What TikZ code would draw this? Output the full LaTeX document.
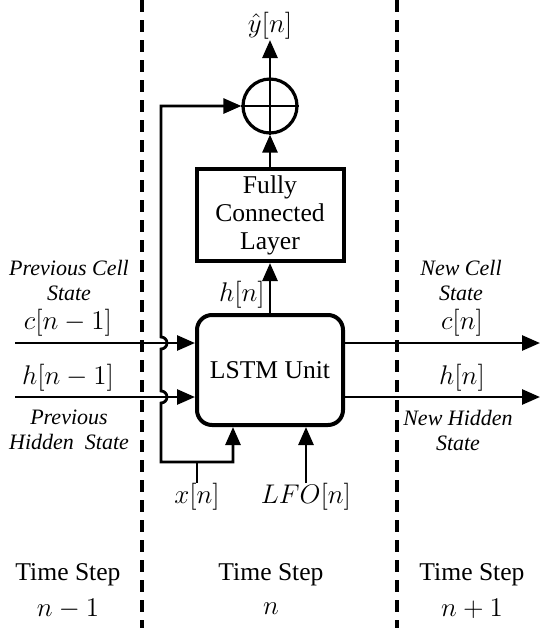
\RequirePackage{fix-cm}
\documentclass[tikz,border=0pt]{standalone}
\usepackage[no-math]{fontspec}
\setmainfont{Liberation Serif}
\usetikzlibrary{arrows.meta}
\begin{document}
\begin{tikzpicture}[x=0.5pt,y=-0.5pt,
  font=\fontsize{12.8}{14}\selectfont,
  conn/.style={line width=1.4pt},
  arr/.style={conn,-{Triangle[length=9pt,width=7.5pt]}},
  boxstyle/.style={draw,line width=2pt,inner sep=0pt,align=center},
  lbl/.style={inner sep=0pt,align=center},
  mlbl/.style={inner sep=0pt,align=center,font=\fontsize{13.5}{15}\selectfont},
  itl/.style={inner sep=0pt,align=center,font=\fontsize{11}{12.5}\selectfont\itshape},
  divider/.style={line width=1.6pt,dash pattern=on 6pt off 4pt}]
\useasboundingbox (0,0) rectangle (542,628);

% dividers
\coordinate (d1t) at (142,0); \coordinate (d1b) at (142,628);
\coordinate (d2t) at (397,0); \coordinate (d2b) at (397,628);
\draw[divider] (d1t) -- (d1b);
\draw[divider] (d2t) -- (d2b);

% main blocks
\node[boxstyle,rounded corners=7.5pt,minimum width=73pt,minimum height=55pt] (lstm) at (270,370) {LSTM Unit};
\node[boxstyle,minimum width=73.5pt,minimum height=46pt] (fc) at (270,215) {Fully\\Connected\\Layer};
\node[draw,circle,line width=1.6pt,minimum size=27pt,inner sep=0pt] (sum) at (270,106) {};
\draw[conn] (sum.south) -- (sum.north);
\draw[conn] (sum.west) -- (sum.east);

% output y-hat
\node[mlbl,anchor=south] (yhat) at (270,40) {$\hat{y}[n]$};
\draw[arr] (sum.north) -- (yhat.south);

\draw[arr] (lstm.north) -- (fc.south);
\draw[arr] (fc.north) -- (sum.south);
\node[mlbl] (hnlbl) at (242,295) {$h[n]$};

% inputs
\coordinate (cin) at (15,343);
\coordinate (hin) at (15,397);
\draw[arr] (cin) -- (cin -| lstm.west);
\draw[arr] (hin) -- (hin -| lstm.west);
\node[itl] (pcs) at (69,280) {Previous Cell\\State};
\node[mlbl] (cprev) at (68,323) {$c[n-1]$};
\node[mlbl] (hprev) at (68,378) {$h[n-1]$};
\node[itl] (phs) at (69,430) {Previous\\Hidden\ \ State};

% outputs
\coordinate (cout) at (540,343);
\coordinate (hout) at (540,397);
\draw[arr] (cout -| lstm.east) -- (cout);
\draw[arr] (hout -| lstm.east) -- (hout);
\node[itl] (ncs) at (461,280) {New Cell\\State};
\node[mlbl] (cnew) at (462,323) {$c[n]$};
\node[mlbl] (hnew) at (462,378) {$h[n]$};
\node[itl] (nhs) at (458,430) {New Hidden\\State};

% bottom inputs
\node[mlbl,anchor=north] (xn) at (197,483) {$x[n]$};
\node[mlbl,anchor=north] (lfo) at (306,483) {$LFO[n]$};
\coordinate (fbtop) at (161,106);
\coordinate (fbbot) at (161,462);
\coordinate (xjoin) at (197,462);
\coordinate (xcorner) at (233,462);
\draw[conn,{Triangle[length=9pt,width=7.5pt]}-{Triangle[length=9pt,width=7.5pt]}]
  (sum.west) -- (fbtop) -- (161,337) arc[start angle=90,end angle=-90,radius=3pt]
  -- (161,391) arc[start angle=90,end angle=-90,radius=3pt]
  -- (fbbot) -- (xcorner) -- (xcorner |- lstm.south);
\draw[conn] (xn.north) -- (xjoin);
\draw[arr] (lfo.north) -- (lfo.north |- lstm.south);

% time step labels
\node[lbl] (ts1) at (68,575) {Time Step};
\node[mlbl] (ts1n) at (68,609) {$n-1$};
\node[lbl] (ts2) at (271,575) {Time Step};
\node[mlbl] (ts2n) at (271,609) {$n$};
\node[lbl] (ts3) at (472,575) {Time Step};
\node[mlbl] (ts3n) at (472,609) {$n+1$};
\end{tikzpicture}
\end{document}
